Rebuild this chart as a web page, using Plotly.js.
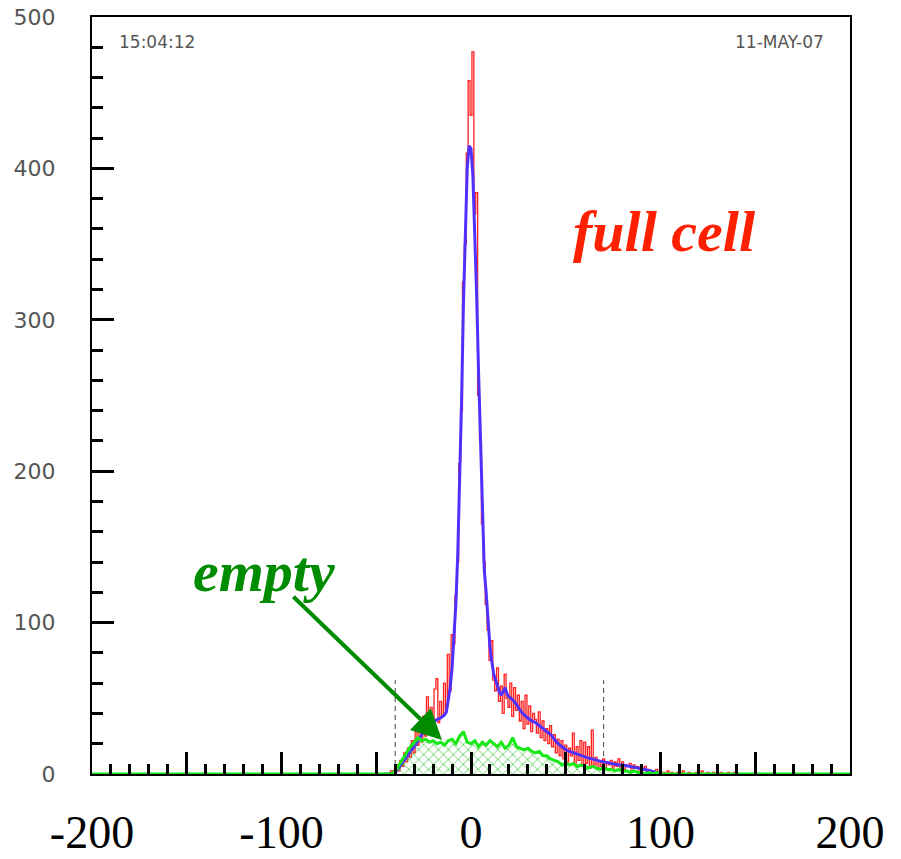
<!DOCTYPE html>
<html>
<head>
<meta charset="utf-8">
<script src="https://cdn.plot.ly/plotly-3.0.1.min.js"></script>
<style>html,body{margin:0;padding:0;background:#fff;}#chart{width:901px;height:859px;}</style>
</head>
<body>
<div id="chart"></div>
<script>
// ---- data ----
// full cell histogram (red), 1-unit bins
const redX = [];
for (let i = -46; i <= 140; i++) redX.push(i);
const redY = [
  0,0,0,0,2,0,3,6,2,9,5,14,8,17,11,22,14,28,19,33,21,38,25,51,28,44,31,56,63,34,
  48,38,60,42,79,55,92,86,118,140,205,240,325,350,410,458,435,477,370,384,250,220,165,140,112,95,
  75,88,62,55,70,48,58,40,66,50,44,60,38,57,42,52,35,48,30,52,33,45,28,40,36,27,41,24,35,22,
  30,20,32,18,26,14,23,12,22,10,19,8,17,12,27,6,18,9,22,5,21,7,18,4,29,6,11,3,9,5,10,4,8,6,9,3,8,5,10,4,
  8,3,6,5,7,2,6,4,5,1,4,3,5,1,3,0,2,1,3,0,2,
  0,1,0,2,0,1,0,0,1,0,0,2,0,0,1,0,0,0,1,0,0,2,0,0,1,0,0,1,0,0,0,1,0,0,0,1,0,0,1,0
];
// fit (blue)
const blueX = [-46,-42,-40,-38,-36,-34,-32,-30,-28,-26,-24,-22,-20,-18,-16,-14,
  -13,-12,-11,-10,-9,-8,-7,-6,-5,-4,-3,-2,-1,0,1,2,3,4,5,6,7,8,9,10,11,12,13,14,15,16,17,18,19,20,
  22,24,26,28,30,32,34,36,38,40,42,44,46,48,50,52,54,56,58,60,62,64,66,68,70,72,74,76,78,80,
  82,84,86,88,90,92,94,96,98,100];
const blueY = [0,0,1,4,8,11,15,18,22,26,29,32,34,36,37,39,
  41,48,57,70,88,112,145,190,245,310,365,400,415,413,395,360,315,265,215,172,135,120,102,84,74,66,62,58,54,52,55,57,53,51,
  49,46,42,39,37,35,34,32,30,28,26,23,20,18,16,15,14,13,12,11,10.5,10,9,8.5,8,7.5,7,6.5,6,6,
  5.5,5,5,4,3.5,3,2,1.5,1,0];
// empty cell histogram (green), 2-unit bins
const greenX = [-200,-42,-40,-38,-36,-34,-32,-30,-28,-26,-24,-22,-20,-18,-16,-14,-12,-10,-8,-6,-4,-2,
  0,2,4,6,8,10,12,14,16,18,20,22,24,26,28,30,32,34,36,38,40,42,44,46,48,50,52,54,56,58,
  60,62,64,66,68,70,72,74,76,78,80,82,84,86,88,90,92,94,96,98,100,200];
const greenY = [0,0,2,6,10,14,18,21,24,22,23,21,22,20,21,19,22,23,20,25,28,21,
  20,22,18,21,19,22,20,18,21,17,19,24,18,17,16,17,15,14,15,12,12,10,9,8,6,7,6,7,5,6,
  5,4,5,4,3,4,3,3,2,3,2,2,1,2,1,1,0,1,0,1,0,0];
// cut lines
const cutX = [-40, 70];
const cutTop = 62;
// axis ticks
const xTickVals = [-200,-150,-100,-50,0,50,100,150,200];
const xTickText = ['-200','','-100','','0','','100','','200'];
const yTickVals = [0,100,200,300,400,500];
const yTickText = ['0','100','200','300','400','500'];
// labels
const timeLabel = '15:04:12';
const dateLabel = '11-MAY-07';
const fullLabel = 'full cell';
const emptyLabel = 'empty';

const traces = [];
cutX.forEach(c => traces.push({
  x: [c, c], y: [0, cutTop], mode: 'lines', type: 'scatter',
  line: {color: '#444', width: 1, dash: '5px,4px'}, hoverinfo: 'skip'
}));
traces.push({
  x: redX, y: redY, mode: 'lines', type: 'scatter',
  line: {color: '#ff2020', width: 1.3, shape: 'hvh'}
});
traces.push({
  x: blueX, y: blueY, mode: 'lines', type: 'scatter',
  line: {color: '#5030ff', width: 3}
});
traces.push({
  x: greenX, y: greenY, mode: 'lines', type: 'scatter',
  line: {color: '#18e818', width: 3},
  fill: 'tozeroy', fillcolor: 'rgba(0,0,0,0)',
  fillpattern: {shape: 'x', fgcolor: '#40c840', bgcolor: 'rgba(0,0,0,0)', size: 7, solidity: 0.2}
});

const layout = {
  width: 901, height: 859,
  margin: {l: 92, r: 51, t: 17, b: 85},
  paper_bgcolor: 'white', plot_bgcolor: 'white',
  showlegend: false,
  xaxis: {
    range: [-200, 200], showgrid: false, zeroline: false,
    showline: true, mirror: true, linecolor: 'black', linewidth: 2,
    ticks: 'inside', tickmode: 'array', tickvals: xTickVals, ticktext: xTickText,
    ticklen: 22, tickwidth: 3, tickcolor: 'black',
    minor: {tickmode: 'linear', tick0: 0, dtick: 10, ticks: 'inside', ticklen: 10, tickwidth: 3, tickcolor: 'black', showgrid: false},
    tickfont: {family: 'Liberation Serif, Times New Roman, serif', size: 46, color: 'black'},
    ticklabelstandoff: 17
  },
  yaxis: {
    range: [0, 500], showgrid: false, zeroline: false,
    showline: true, mirror: true, linecolor: 'black', linewidth: 2,
    ticks: 'inside', tickmode: 'array', tickvals: yTickVals, ticktext: yTickText,
    ticklen: 22, tickwidth: 3, tickcolor: 'black',
    minor: {tickmode: 'linear', tick0: 0, dtick: 20, ticks: 'inside', ticklen: 11, tickwidth: 3, tickcolor: 'black', showgrid: false},
    tickfont: {family: 'DejaVu Sans, sans-serif', size: 22, color: '#555'},
    ticklabelstandoff: 30
  },
  annotations: [
    {xref: 'paper', yref: 'paper', x: 0.033, y: 0.967, xanchor: 'left', yanchor: 'middle',
     text: timeLabel, showarrow: false, font: {family: 'DejaVu Sans, sans-serif', size: 17, color: '#555'}},
    {xref: 'paper', yref: 'paper', x: 0.968, y: 0.967, xanchor: 'right', yanchor: 'middle',
     text: dateLabel, showarrow: false, font: {family: 'DejaVu Sans, sans-serif', size: 17, color: '#555'}},
    {xref: 'x', yref: 'y', x: 102, y: 358, xanchor: 'center', yanchor: 'middle',
     text: fullLabel, showarrow: false,
     font: {family: 'Liberation Serif, Times New Roman, serif', size: 58, color: '#ff2000', weight: 'bold', style: 'italic'}},
    {xref: 'x', yref: 'y', x: -109.5, y: 134, xanchor: 'center', yanchor: 'middle',
     text: emptyLabel, showarrow: false,
     font: {family: 'Liberation Serif, Times New Roman, serif', size: 58, color: '#008c00', weight: 'bold', style: 'italic'}},
    {xref: 'x', yref: 'y', x: -15.3, y: 22.5, axref: 'x', ayref: 'y', ax: -94.5, ay: 118,
     text: '', showarrow: true, arrowhead: 2, arrowsize: 1.5, arrowwidth: 4, arrowcolor: '#008c00'}
  ]
};

Plotly.newPlot('chart', traces, layout, {displayModeBar: false, staticPlot: true});
</script>
</body>
</html>
